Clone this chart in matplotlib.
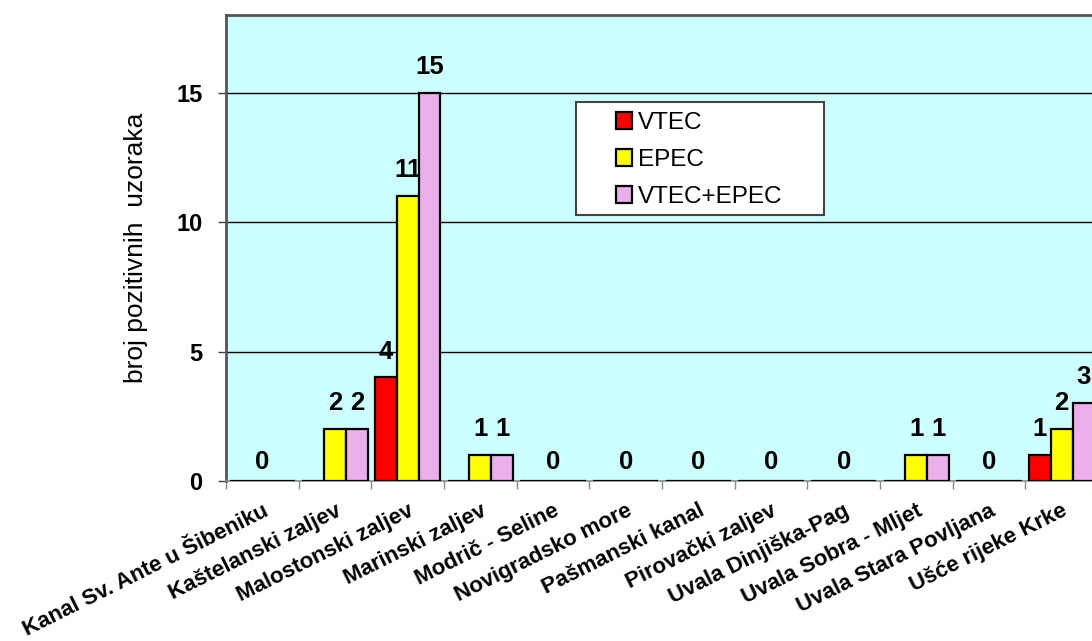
import matplotlib
matplotlib.use("Agg")
import matplotlib.pyplot as plt
import numpy as np
from matplotlib.patches import Rectangle

plt.rcParams['font.family'] = ['Liberation Sans', 'DejaVu Sans']

categories = ["Kanal Sv. Ante u Šibeniku", "Kaštelanski zaljev", "Malostonski zaljev",
              "Marinski zaljev", "Modrič - Seline", "Novigradsko more", "Pašmanski kanal",
              "Pirovački zaljev", "Uvala Dinjiška-Pag", "Uvala Sobra - Mljet",
              "Uvala Stara Povljana", "Ušće rijeke Krke"]
vtec = [0, 0, 4, 0, 0, 0, 0, 0, 0, 0, 0, 1]
epec = [0, 2, 11, 1, 0, 0, 0, 0, 0, 1, 0, 2]
vtec_epec = [0, 2, 15, 1, 0, 0, 0, 0, 0, 1, 0, 3]
series_names = ["VTEC", "EPEC", "VTEC+EPEC"]
colors = ["#FF0000", "#FFFF00", "#EBAFEB"]
y_ticks = [0, 5, 10, 15]
y_label = "broj pozitivnih  uzoraka"

fig = plt.figure(figsize=(10.92, 6.41), dpi=100)
ax = fig.add_axes([226/1092, 1-481/641, 872/1092, 466/641])
ax.set_facecolor("#CCFFFF")

x = np.arange(len(categories))
w = 0.3
series = [vtec, epec, vtec_epec]
for k, (vals, name, c) in enumerate(zip(series, series_names, colors)):
    bars = ax.bar(x + (k - 1) * w, vals, w, color=c, edgecolor="black", linewidth=1.6,
                  label=name, zorder=3)
    ax.bar_label(bars, labels=["" if v == 0 else str(v) for v in vals], padding=10,
                 fontsize=18.5, fontweight="bold")

for i in range(len(categories)):
    if vtec[i] == 0 and epec[i] == 0 and vtec_epec[i] == 0:
        ax.annotate("0", xy=(x[i], 0), xytext=(0, 5), textcoords="offset points",
                    ha="center", va="bottom", fontsize=18.5, fontweight="bold")

ax.set_xlim(-0.5, len(categories) - 0.5)
ax.set_ylim(0, 18)
ax.set_yticks(y_ticks)
ax.set_yticklabels([str(t) for t in y_ticks], fontsize=17, fontweight="bold")
ax.tick_params(axis="y", length=6, width=1, color="#444444", pad=11)
for t in y_ticks[1:]:
    ax.axhline(t, color="black", linewidth=1.0, zorder=1)

ax.set_xticks(x)
ax.set_xticklabels(categories, rotation=26.5, ha="right", va="top", rotation_mode="anchor",
                   fontsize=16, fontweight="bold")
ax.tick_params(axis="x", length=0, pad=14)
ax.set_xticks(np.arange(len(categories) + 1) - 0.5, minor=True)
ax.tick_params(axis="x", which="minor", length=6, width=1, color="#888888")

ax.set_ylabel(y_label, fontsize=19, labelpad=20)

for s in ["top", "left"]:
    ax.spines[s].set_color("#555555")
    ax.spines[s].set_linewidth(2)
ax.spines["bottom"].set_color("#888888")
ax.spines["bottom"].set_linewidth(1.2)
ax.spines["right"].set_visible(False)

ax.add_patch(Rectangle((350/872, 266/466), 248/872, 113/466, transform=ax.transAxes,
                       facecolor="white", edgecolor="#444444", linewidth=1.5, zorder=4))
leg = ax.legend(loc="upper left", bbox_to_anchor=(0.447, 0.792), frameon=False,
                fontsize=17.5, handlelength=0.65, handleheight=0.65, handletextpad=0.25,
                labelspacing=0.62, borderpad=0, borderaxespad=0)
leg.set_zorder(5)

fig.savefig("out.png", dpi=100)
